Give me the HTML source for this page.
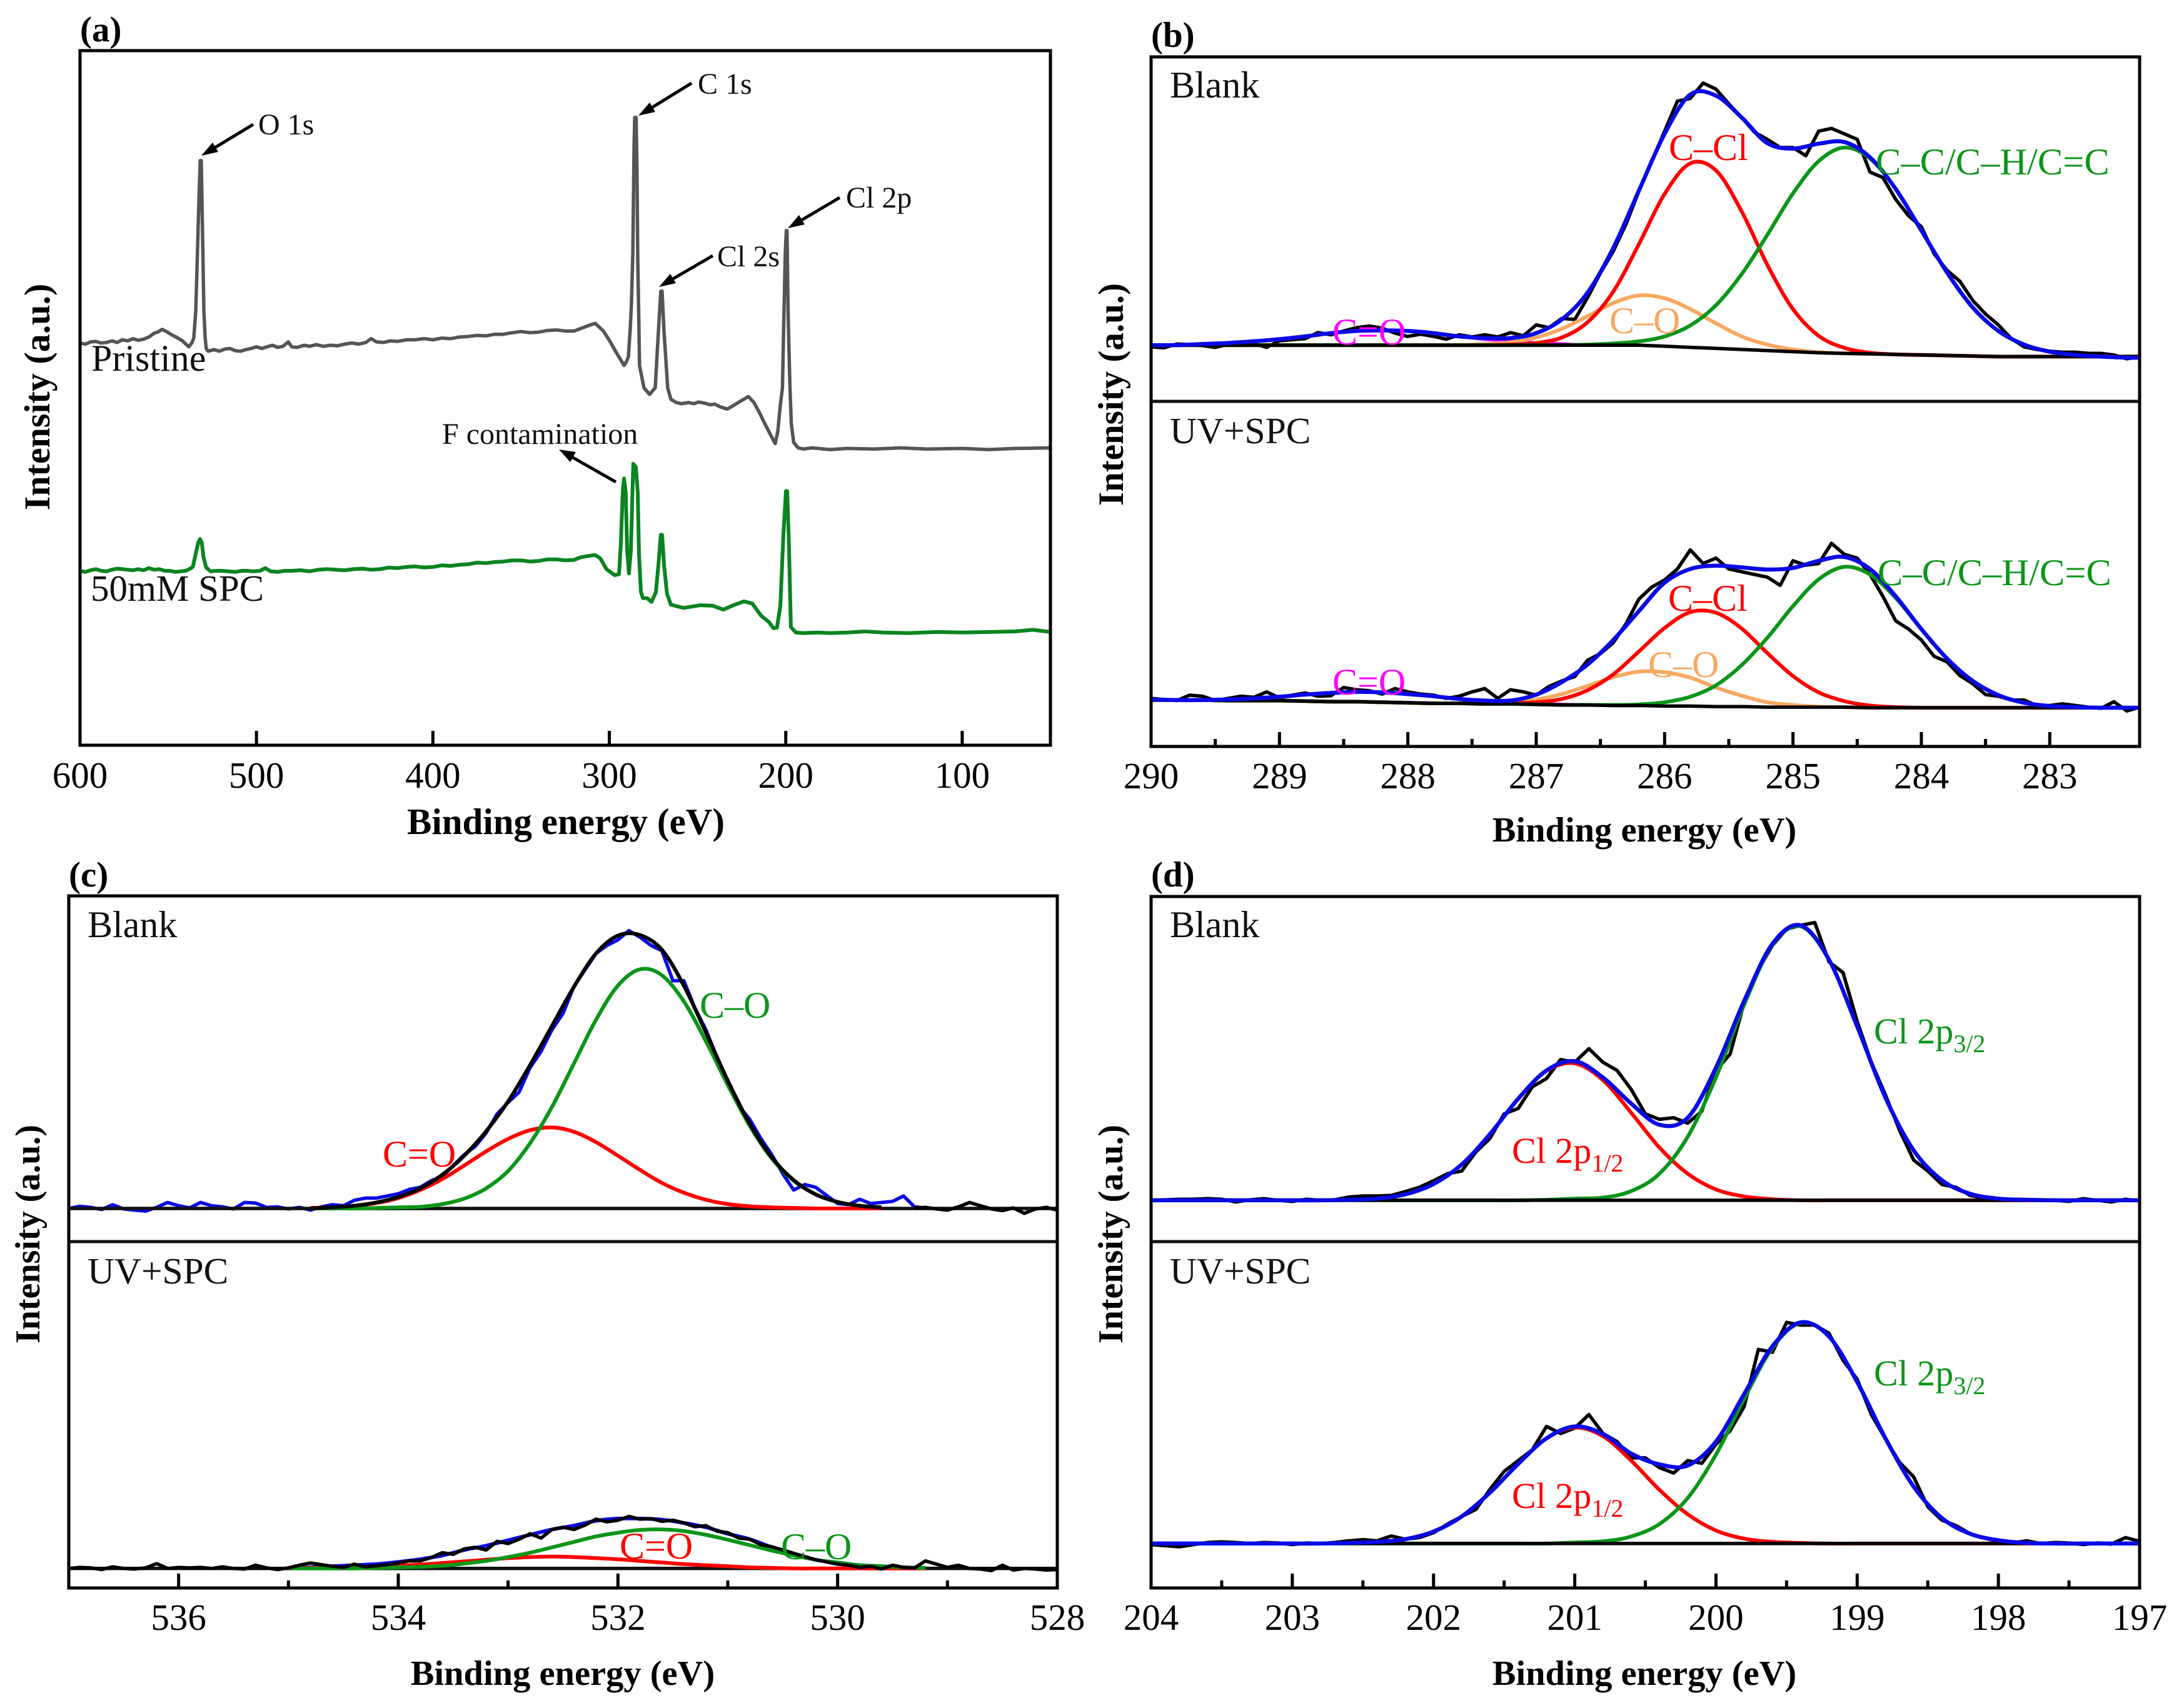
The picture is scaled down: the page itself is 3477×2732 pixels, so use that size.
<!DOCTYPE html>
<html lang="en">
<head>
<meta charset="utf-8">
<title>XPS spectra panels</title>
<style>
html,body{margin:0;padding:0;background:#fff;}
svg{display:block;}
text{font-family:"Liberation Serif",serif;fill:#000;}
.title{font-weight:bold;font-size:56.5px;}
.ylab{font-weight:bold;font-size:57px;}
.panel{font-weight:bold;font-size:57px;}
.tick{font-size:59px;text-anchor:middle;}
.lab{font-size:60px;fill:#111;}
.ann{font-size:48px;fill:#111;}
.sub{font-size:40px;}
</style>
</head>
<body>
<svg id="fig" width="3477" height="2732" viewBox="0 0 3477 2732" xmlns="http://www.w3.org/2000/svg">
<rect x="0" y="0" width="3477" height="2732" fill="#fff"/>
<g id="marks"></g>

<text class="panel" x="128" y="66">(a)</text>
<text class="panel" x="1841" y="75">(b)</text>
<text class="panel" x="110" y="1418">(c)</text>
<text class="panel" x="1841" y="1418">(d)</text>

<text class="title" style="font-size:59px" x="905" y="1334" text-anchor="middle">Binding energy (eV)</text>
<text class="title" x="2630" y="1346" text-anchor="middle">Binding energy (eV)</text>
<text class="title" x="900" y="2695" text-anchor="middle">Binding energy (eV)</text>
<text class="title" x="2630" y="2695" text-anchor="middle">Binding energy (eV)</text>

<text class="ylab" style="font-size:58px" transform="translate(79 635) rotate(-90)" text-anchor="middle">Intensity (a.u.)</text>
<text class="ylab" transform="translate(1796 631) rotate(-90)" text-anchor="middle">Intensity (a.u.)</text>
<text class="ylab" style="font-size:56px" transform="translate(63 1974) rotate(-90)" text-anchor="middle">Intensity (a.u.)</text>
<text class="ylab" style="font-size:56px" transform="translate(1795 1974) rotate(-90)" text-anchor="middle">Intensity (a.u.)</text>

<text class="ann" x="413" y="215">O 1s</text>
<text class="ann" x="1116" y="150">C 1s</text>
<text class="ann" x="1147" y="426">Cl 2s</text>
<text class="ann" x="1353" y="332">Cl 2p</text>
<text class="ann" x="707" y="710">F contamination</text>
<text class="lab" x="146" y="593">Pristine</text>
<text class="lab" style="font-size:59px" x="145" y="961">50mM SPC</text>

<g stroke="#000" stroke-width="5" fill="#000">
<line x1="405" y1="199" x2="334" y2="242"/>
<polygon stroke="none" points="322,249 340,228 349,243"/>
<line x1="1106" y1="133" x2="1033" y2="178"/>
<polygon stroke="none" points="1021,185 1039,164 1048,179"/>
<line x1="1140" y1="409" x2="1066" y2="452"/>
<polygon stroke="none" points="1054,459 1072,438 1081,453"/>
<line x1="1343" y1="316" x2="1272" y2="358"/>
<polygon stroke="none" points="1260,365 1278,344 1287,359"/>
<line x1="985" y1="771" x2="906" y2="726"/>
<polygon stroke="none" points="894,719 921,723 912,739"/>
</g>

<text class="lab" x="1871" y="156">Blank</text>
<text class="lab" style="font-size:59.5px" x="1871" y="709">UV+SPC</text>
<text class="lab" x="140" y="1499">Blank</text>
<text class="lab" style="font-size:59.5px" x="140" y="2053">UV+SPC</text>
<text class="lab" x="1871" y="1499">Blank</text>
<text class="lab" style="font-size:59.5px" x="1871" y="2053">UV+SPC</text>

<g>
<text class="lab" style="fill:#f00" x="2669" y="256">C–Cl</text>
<text class="lab" style="fill:#0a9618;font-size:60.5px" x="3000" y="279">C–C/C–H/C=C</text>
<text class="lab" style="fill:#f8a860" x="2574" y="533">C–O</text>
<text class="lab" style="fill:#f0f" x="2131" y="551">C=O</text>
<text class="lab" style="fill:#f00" x="2668" y="977">C–Cl</text>
<text class="lab" style="fill:#0a9618;font-size:60.5px" x="3003" y="936">C–C/C–H/C=C</text>
<text class="lab" style="fill:#f8a860" x="2636" y="1083">C–O</text>
<text class="lab" style="fill:#f0f" x="2131" y="1111">C=O</text>
<text class="lab" style="fill:#0a9618" x="1119" y="1628">C–O</text>
<text class="lab" style="fill:#f00" x="612" y="1866">C=O</text>
<text class="lab" style="fill:#f00" x="991" y="2493">C=O</text>
<text class="lab" style="fill:#0a9618" x="1249" y="2494">C–O</text>
<text class="lab" style="fill:#f00;font-size:58px" x="2418" y="1860">Cl 2p<tspan class="sub" dy="14">1/2</tspan></text>
<text class="lab" style="fill:#0a9618;font-size:58px" x="2997" y="1669">Cl 2p<tspan class="sub" dy="14">3/2</tspan></text>
<text class="lab" style="fill:#f00;font-size:58px" x="2418" y="2412">Cl 2p<tspan class="sub" dy="14">1/2</tspan></text>
<text class="lab" style="fill:#0a9618;font-size:58px" x="2997" y="2216">Cl 2p<tspan class="sub" dy="14">3/2</tspan></text>
</g>
</svg>

<script>
/* ---------- Panel (a): survey spectra ---------- */
const aPristineEnergy = [600,597,594,591,588,585,582,579,576,573, 570,567,564,561,558,556,553.5,551,548,545, 542,540,538.3,536.5,535.5,534.4,533.4,532.6,531.9,531.3, 530.9,530.4,529.8,529.1,528.5,527.4,524,521,518,515, 512,509,506,503,500,497,494,491,488,485, 482,480,477,473,470,466,462,458,454,450, 446,442,438,435,432,428,424,420,415,410, 405,400,395,390,385,380,375,370,365,360, 355,350,345,340,335,330,325,320,315,311, 308,303.4,300,297,291.7,290.3,289.2,288.2,287.5,286.7, 286,285.6,284.8,284.3,283.9,283.3,282.9,280.4,277.2,274, 272.2,270.8,270.1,269,266.9,265.1,262,259.1,255,252, 249.5,246,243,240.3,237,233.2,230,226,221.2,218, 215,212,208,206,204.5,203.2,201.9,201,200.3,199.7, 199.3,198.7,198,197.6,196.9,195.5,193,190,185,175, 165,150,135,120,100,85,70,50];
const aPristineValues = [737,735,739,740,737,738,741,738,743,741, 745,742,744,748,755,757,762,758,752,747, 741,735,730,738,747,796,907,1000,1071,1071, 1000,907,796,747,727,722,725,722,726,727, 723,722,725,727,730,727,730,733,729,731, 739,730,729,733,731,734,731,733,732,735, 737,735,738,745,739,738,741,740,743,743, 745,743,746,745,748,749,751,750,753,753, 756,758,756,757,760,761,759,759,765,770, 773,759,742,725,696,703,712,760,806,900, 1100,1150,1150,1050,889,780,696,655,643,655, 758,832,832,758,655,634,628,626,628,626, 629,627,624,625,620,616,622,630,639,628, 610,590,565,553,575,620,655,795,900,943, 943,795,700,655,590,555,545,543,545,542, 544,543,545,543,544,542,544,545];
const aSpcEnergy = [600,597,594,591,588,585,582,579,576,573, 570,567,564,561,558,555,552,549,546,543, 540,537,536,534.5,533,532,531,530,528.5,526, 523,520,516,512,508,505,502,498,495,492, 488,484,480,475,470,465,460,455,450,445, 440,435,430,425,420,415,410,405,400,395, 390,385,380,375,370,365,360,355,350,345, 340,335,330,325,320,316,312,308,305.2,301.6, 297,294.5,293.5,292.4,291.7,290.7,289.9,288.9,287.8,286.7, 286.4,285,283.9,283.2,282.1,281,278.6,276.1,273.6,272.2, 270.8,270.1,269,267.3,265.1,258,248.5,241.4,235.4,229.7, 223.7,219,214,209.5,207,205,203.1,201.3,199.9,199.2, 198.2,197.1,194.3,190,182,175,165,155,145,130, 115,100,85,70,60,50];
const aSpcValues = [320,318,321,323,320,319,322,324,323,322, 321,323,321,325,322,323,320,320,318,319, 320,325,328,350,372,378,372,345,326,319, 320,320,319,318,320,320,319,320,325,319, 318,320,320,321,319,322,323,322,321,323, 324,322,323,326,325,327,328,326,327,330, 329,331,332,335,334,336,337,339,339,337, 338,341,341,339,340,345,347,349,343,323, 312,314,369,464,489,464,358,315,358,487, 516,510,464,350,281,270,270,263,281,331, 386,386,331,278,258,252,257,256,249,257, 264,260,238,226,215,216,255,389,466,466, 369,217,207,206,207,206,207,209,207,206, 208,207,208,209,212,208];
const aTicks = [600,500,400,300,200,100];

/* ---------- Panel (b): C 1s ---------- */
const bTicks = [290,289,288,287,286,285,284,283];
const bMinorTicks = [289.5,288.5,287.5,286.5,285.5,284.5,283.5];
const bFitEnergy = [290,289.8,289.6,289.4,289.2,289,288.8,288.6,288.4,288.2,288,287.8,287.6,287.4,287.2,287,286.8,286.6,286.4,286.2,286,285.8,285.6,285.4,285.2,285,284.8,284.6,284.4,284.2,284,283.8,283.6,283.4,283.2,283,282.8,282.6,282.4,282.3];
const bBlankRaw = [100,98,105,104,102,99,104,105,106,99, 111,113,115,126,122,129,135,138,134,125, 119,123,119,114,122,118,122,118,126,120, 140,135,152,150,190,235,275,325,385,440, 495,550,555,583,572,545,520,493,480,465, 465,450,495,500,490,480,420,410,370,340, 320,270,240,220,185,160,140,115,100,95, 92,90,90,88,88,85,78,82];
const bBlankBaseline = [103,103,103,103,103,103,103,103,103,103,103,103,103,103,103,103,103,103,103,103,101,99,97,95,93,91,89,88,87,86,85,84,83,82,82,82,82,82,82,82];
const bBlankRed = [103,103,103,103,103,103,103,103,103,103,103,103,103,103,104,107,117,145,201,288,380,436,423,348,250,169,120,98,89,86,85,84,83,82,82,82,82,82,82,82];
const bBlankGreen = [103,103,103,103,103,103,103,103,103,103,103,103,103,103,103,103,103,104,106,110,119,139,176,233,305,381,440,465,445,389,313,236,172,129,104,91,85,82,82,82];
const bBlankOrange = [103,103,103,103,103,103,103,103,103,103,103,103,103,105,108,117,133,156,180,194,189,169,143,119,104,95,90,88,87,86,85,84,83,82,82,82,82,82,82,82];
const bBlankMagenta = [103,103,105,107,110,114,119,125,129,130,129,125,119,114,110,107,105,103,103,103];
const bBlankBlue = [103,103,105,107,110,114,119,125,129,130,129,125,119,116,116,125,150,199,281,386,490,562,560,520,473,463,472,475,447,389,313,236,172,129,104,91,85,82,80,80];

const bUvRaw = [88,86,84,94,92,84,88,92,90,100, 89,94,98,92,93,108,104,102,96,106, 100,96,94,88,92,100,106,88,104,100, 94,110,120,128,158,170,190,225,270,292, 305,325,360,335,345,325,320,315,310,295, 340,332,335,372,352,345,315,275,230,215, 195,165,155,130,115,95,92,85,85,75, 75,78,75,72,70,82,65,72];
const bUvBaseline = [85,85,85,84,84,84,83,82,82,81,80,79,79,78,78,77,76,76,75,75,74,74,73,73,72,72,72,72,71,71,71,71,71,71,71,71,71,71,71,71];
const bUvRed = [85,85,85,84,84,84,83,82,82,81,80,79,79,78,79,81,87,103,132,174,217,246,245,216,171,129,99,83,75,72,71,71,71,71,71,71,71,71,71,71];
const bUvGreen = [85,85,85,84,84,84,83,82,82,81,80,79,79,78,78,77,76,76,76,77,81,91,112,149,199,257,306,329,315,272,215,161,120,94,80,74,72,71,71,71];
const bUvOrange = [85,85,85,84,84,84,83,82,82,81,80,79,79,78,82,86,96,111,127,137,136,126,108,93,81,76,73,72,71,71,71,71,71,71,71,71,71,71,71,71];
const bUvMagenta = [85,85,85,86,88,91,95,98,100,99,96,92,87,84,81,79,77,76,75,75];
const bUvBlue = [86,85,85,86,88,91,95,98,100,99,96,92,87,84,84,95,118,150,195,248,300,325,331,328,324,327,340,347,325,275,215,161,120,94,80,74,72,71,71,71];

/* ---------- Panel (c): O 1s ---------- */
const cTicks = [536,534,532,530,528];
const cMinorTicks = [535,533,531,529];
const cBaselineEnergy = [537,528];
const cBlankRawBlue = [61,65,63,59,68,60,58,56,63,72, 66,62,72,66,64,60,72,71,63,64, 60,63,58,64,68,66,76,80,80,84, 88,96,100,112,120,140,160,175,200,235, 256,275,320,350,390,420,470,500,530,545, 555,572,560,545,535,480,480,430,390,340, 290,250,225,190,160,125,95,105,100,85, 70,68,78,70,72,74,84,64,62];
const cBlankTailEnergy = [529.3,529.2,529.1,529,528.9,528.8,528.7,528.6,528.5,528.4,528.3,528.2,528.1,528];
const cBlankTail = [62,63,60,58,64,72,66,60,57,62,52,60,63,58];
const cBlankFitEnergy = [534.8,534.6,534.4,534.2,534,533.8,533.6,533.4,533.2,533,532.8,532.6,532.4,532.2,532,531.8,531.6,531.4,531.2,531,530.8,530.6,530.4,530.2,530,529.8,529.6];
const cBlankRed = [62,63,66,71,80,95,115,140,166,189,205,210,202,183,158,132,108,90,77,69,65,63,62,61,61,61,61];
const cBlankGreen = [61,61,61,62,63,64,69,79,98,130,181,248,328,408,471,501,490,442,369,288,213,153,112,87,73,66,63];
const cBlankFit = [61,63,66,72,82,98,123,158,203,258,325,397,469,530,563,564,537,471,385,296,217,155,113,87,73,66,63];
const cBlankBaseline = [61,61];

const cUvRaw = [36,38,37,34,39,36,35,37,45,36, 38,37,38,36,39,36,35,42,37,34, 37,42,46,43,40,38,44,39,41,43, 46,50,50,56,65,62,72,75,70,86, 82,90,100,92,108,112,108,116,127,122, 125,132,127,128,123,125,120,113,115,105, 102,92,90,80,76,70,64,58,52,48, 44,42,38,40,35,42,38,37,50,44, 38,42,36,35,32,42,33,36,35,33, 34];
const cUvFitEnergy = [535,534.8,534.6,534.4,534.2,534,533.8,533.6,533.4,533.2,533,532.8,532.6,532.4,532.2,532,531.8,531.6,531.4,531.2,531,530.8,530.6,530.4,530.2,530,529.8,529.6,529.4,529.2];
const cUvRed = [36,37,37,38,39,41,43,46,49,52,55,57,58,57,55,53,50,47,44,42,40,38,37,36,36,36,36,36,36,36];
const cUvGreen = [36,36,36,36,37,38,39,41,45,50,57,65,75,85,95,102,107,108,105,98,89,79,69,60,52,47,42,40,38,37];
const cUvBlue = [37,38,40,42,44,48,53,60,70,78,88,98,108,115,124,128,128,126,120,112,100,90,75,62,52,47,42,40,38,37];
const cUvBaseline = [36,36];

/* ---------- Panel (d): Cl 2p ---------- */
const dTicks = [204,203,202,201,200,199,198,197];
const dMinorTicks = [203.5,202.5,201.5,200.5,199.5,198.5,197.5];
const dBaselineEnergy = [204,197];
const dFitEnergy = [204,203.8,203.6,203.4,203.2,203,202.8,202.6,202.4,202.2,202,201.8,201.6,201.4,201.2,201,200.8,200.6,200.4,200.2,200,199.8,199.6,199.4,199.2,199,198.8,198.6,198.4,198.2,198,197.8,197.6,197.4,197.2,197];
const dBlankRaw = [76,77,78,78,79,78,73,77,79,76, 74,78,76,77,82,84,84,85,92,100, 112,125,130,165,190,235,245,285,300,335, 330,355,330,315,280,235,225,228,218,240, 315,345,440,500,545,575,582,587,515,495, 405,330,270,205,150,130,105,100,85,80, 76,76,76,77,76,74,79,76,73,78, 75];
const dBlankRed = [76,76,76,76,76,76,76,77,79,87,106,142,198,263,314,328,297,237,173,125,96,83,78,76,76,76,76,76,76,76,76,76,76,76,76,76];
const dBlankGreen = [76,76,76,76,76,76,76,76,76,76,76,76,76,76,77,79,81,93,125,193,302,436,546,580,519,396,265,168,113,88,79,77,76,76,76,76];
const dBlankBlue = [76,76,76,76,76,76,76,77,79,87,106,142,198,263,315,332,302,254,215,228,320,443,548,582,519,396,265,168,113,88,79,77,76,76,76,76];
const dBlankBaseline = [76,76];

const dUvRaw = [80,78,76,80,84,85,84,82,84,83, 80,83,82,84,87,89,87,96,90,93, 102,118,132,145,182,215,235,255,298,285, 295,320,285,270,240,240,222,212,235,230, 265,290,335,440,435,490,485,485,470,420, 385,320,275,232,205,150,125,115,100,92, 86,83,87,82,84,83,80,83,81,93, 86];
const dUvRed = [82,82,82,82,82,82,82,83,85,90,104,132,176,229,276,296,280,235,181,136,106,91,85,83,82,82,82,82,82,82,82,82,82,82,82,82];
const dUvGreen = [82,82,82,82,82,82,82,82,82,82,82,82,82,82,82,84,86,95,118,166,246,349,443,489,464,380,276,187,129,100,88,83,82,82,82,82];
const dUvBlue = [82,82,82,82,82,82,82,83,85,90,104,132,176,229,276,298,284,248,228,226,270,358,446,490,464,380,276,187,129,100,88,83,82,82,82,82];
const dUvBaseline = [82,82];

/* Instrument step grids for the raw scans (0.1 eV per channel) */
const bRawEnergy = stepGrid(290, 78);
const cBlankRawEnergy = stepGrid(537, 79);
const cUvRawEnergy = stepGrid(537, 91);
const dRawEnergy = stepGrid(204, 71);

function stepGrid(start, count) {
  const out = [];
  for (let i = 0; i < count; i++) out.push(Math.round((start - i * 0.1) * 10) / 10);
  return out;
}

/* ---------- Rendering ---------- */
const NS = 'http://www.w3.org/2000/svg';
const marks = document.getElementById('marks');

const COL = {black:'#000', gray:'#555', surveyGreen:'#0a8420', blue:'#0a0ae6', red:'#f00', green:'#0a9618', orange:'#f8a860', magenta:'#f0f'};

function linearScale(d0, d1, p0, p1) {
  return function (v) { return p0 + (v - d0) * (p1 - p0) / (d1 - d0); };
}

function pathFrom(xs, ys, smooth) {
  let d = 'M' + xs[0].toFixed(1) + ' ' + ys[0].toFixed(1);
  for (let i = 1; i < xs.length; i++) {
    if (!smooth) { d += 'L' + xs[i].toFixed(1) + ' ' + ys[i].toFixed(1); continue; }
    const i0 = Math.max(0, i - 2), i3 = Math.min(xs.length - 1, i + 1);
    const c1x = xs[i-1] + (xs[i] - xs[i0]) / 6, c1y = ys[i-1] + (ys[i] - ys[i0]) / 6;
    const c2x = xs[i] - (xs[i3] - xs[i-1]) / 6, c2y = ys[i] - (ys[i3] - ys[i-1]) / 6;
    d += 'C' + c1x.toFixed(1) + ' ' + c1y.toFixed(1) + ' ' + c2x.toFixed(1) + ' ' + c2y.toFixed(1) + ' ' + xs[i].toFixed(1) + ' ' + ys[i].toFixed(1);
  }
  return d;
}

function drawSeries(name, energies, values, sx, sy, color, width, smooth) {
  const n = Math.min(energies.length, values.length);
  const xs = [], ys = [];
  for (let i = 0; i < n; i++) { xs.push(sx(energies[i])); ys.push(sy(values[i])); }
  const el = document.createElementNS(NS, 'path');
  
  
  el.setAttribute('d', pathFrom(xs, ys, smooth));
  el.setAttribute('fill', 'none');
  el.setAttribute('stroke', color);
  el.setAttribute('stroke-width', width);
  el.setAttribute('stroke-linejoin', 'round');
  marks.appendChild(el);
}

function drawFrame(name, left, top, right, bottom) {
  const el = document.createElementNS(NS, 'rect');
  
  
  el.setAttribute('x', left);
  el.setAttribute('y', top);
  el.setAttribute('width', right - left);
  el.setAttribute('height', bottom - top);
  el.setAttribute('fill', 'none');
  el.setAttribute('stroke', '#000');
  el.setAttribute('stroke-width', 5);
  marks.appendChild(el);
}

function drawDivider(name, left, right, y) {
  const el = document.createElementNS(NS, 'line');
  
  
  el.setAttribute('x1', left);
  el.setAttribute('x2', right);
  el.setAttribute('y1', y);
  el.setAttribute('y2', y);
  el.setAttribute('stroke', '#111');
  el.setAttribute('stroke-width', 5);
  marks.appendChild(el);
}

function drawTick(name, x, bottom, len) {
  const el = document.createElementNS(NS, 'line');
  
  
  el.setAttribute('x1', x);
  el.setAttribute('x2', x);
  el.setAttribute('y1', bottom);
  el.setAttribute('y2', bottom - len);
  el.setAttribute('stroke', '#000');
  el.setAttribute('stroke-width', 5);
  marks.appendChild(el);
}

function drawTickLabel(name, x, y, value) {
  const el = document.createElementNS(NS, 'text');
  
  
  el.setAttribute('class', 'tick');
  el.setAttribute('x', x);
  el.setAttribute('y', y);
  el.textContent = String(value);
  marks.appendChild(el);
}

function drawAxis(prefix, ticks, minors, sx, bottom, labelY) {
  ticks.forEach(function (t) {
    drawTick(prefix + '-tick-' + t, sx(t), bottom, 23);
    drawTickLabel(prefix + '-tick-label-' + t, sx(t), labelY, t);
  });
  minors.forEach(function (t) {
    drawTick(prefix + '-minor-tick-' + t, sx(t), bottom, 12);
  });
}

/* Panel (a) */
const aX = linearScale(600, 50, 128, 1680);
const aY = linearScale(0, 1273, 1192.6, 80.4);
drawSeries('pristine-spectrum', aPristineEnergy, aPristineValues, aX, aY, COL.gray, 5.5, false);
drawSeries('spc-spectrum', aSpcEnergy, aSpcValues, aX, aY, COL.surveyGreen, 6, false);
drawFrame('panel-a-frame', 128, 81, 1680, 1192);
drawAxis('a', aTicks, [], aX, 1192, 1260);

/* Panel (b) */
const bX = linearScale(290, 282.3, 1841, 3422);
const bYTop = linearScale(0, 631, 642, 91);
const bYBot = linearScale(0, 632, 1194, 642);
drawSeries('b-blank-raw', bRawEnergy, bBlankRaw, bX, bYTop, COL.black, 5.5, false);
drawSeries('b-blank-c=o-fit', bFitEnergy, bBlankMagenta, bX, bYTop, COL.magenta, 5.5, true);
drawSeries('b-blank-c-o-fit', bFitEnergy, bBlankOrange, bX, bYTop, COL.orange, 6, true);
drawSeries('b-blank-c-cl-fit', bFitEnergy, bBlankRed, bX, bYTop, COL.red, 6, true);
drawSeries('b-blank-c-c-fit', bFitEnergy, bBlankGreen, bX, bYTop, COL.green, 6, true);
drawSeries('b-blank-baseline', bFitEnergy, bBlankBaseline, bX, bYTop, COL.black, 5.5, false);
drawSeries('b-blank-envelope', bFitEnergy, bBlankBlue, bX, bYTop, COL.blue, 6.5, true);
drawSeries('b-uv-raw', bRawEnergy, bUvRaw, bX, bYBot, COL.black, 5.5, false);
drawSeries('b-uv-c=o-fit', bFitEnergy, bUvMagenta, bX, bYBot, COL.magenta, 5.5, true);
drawSeries('b-uv-c-o-fit', bFitEnergy, bUvOrange, bX, bYBot, COL.orange, 6, true);
drawSeries('b-uv-c-cl-fit', bFitEnergy, bUvRed, bX, bYBot, COL.red, 6, true);
drawSeries('b-uv-c-c-fit', bFitEnergy, bUvGreen, bX, bYBot, COL.green, 6, true);
drawSeries('b-uv-baseline', bFitEnergy, bUvBaseline, bX, bYBot, COL.black, 5.5, false);
drawSeries('b-uv-envelope', bFitEnergy, bUvBlue, bX, bYBot, COL.blue, 6.5, true);
drawFrame('panel-b-frame', 1841, 91, 3422, 1194);
drawDivider('panel-b-divider', 1841, 3422, 642);
drawAxis('b', bTicks, bMinorTicks, bX, 1194, 1261);

/* Panel (c) */
const cX = linearScale(537, 528, 110, 1691);
const cYTop = linearScale(0, 636, 1986, 1433);
const cYBot = linearScale(0, 639, 2540, 1986);
drawSeries('c-blank-raw', cBlankRawEnergy, cBlankRawBlue, cX, cYTop, COL.blue, 5.5, false);
drawSeries('c-blank-baseline', cBaselineEnergy, cBlankBaseline, cX, cYTop, '#111', 5.5, false);
drawSeries('c-blank-c=o-fit', cBlankFitEnergy, cBlankRed, cX, cYTop, COL.red, 6, true);
drawSeries('c-blank-c-o-fit', cBlankFitEnergy, cBlankGreen, cX, cYTop, COL.green, 6, true);
drawSeries('c-blank-envelope', cBlankFitEnergy, cBlankFit, cX, cYTop, COL.black, 6, true);
drawSeries('c-blank-tail', cBlankTailEnergy, cBlankTail, cX, cYTop, COL.black, 5.5, false);
drawSeries('c-uv-baseline', cBaselineEnergy, cUvBaseline, cX, cYBot, '#111', 5.5, false);
drawSeries('c-uv-envelope', cUvFitEnergy, cUvBlue, cX, cYBot, COL.blue, 6, true);
drawSeries('c-uv-c=o-fit', cUvFitEnergy, cUvRed, cX, cYBot, COL.red, 6, true);
drawSeries('c-uv-c-o-fit', cUvFitEnergy, cUvGreen, cX, cYBot, COL.green, 6, true);
drawSeries('c-uv-raw', cUvRawEnergy, cUvRaw, cX, cYBot, COL.black, 5.5, false);
drawFrame('panel-c-frame', 110, 1433, 1691, 2540);
drawDivider('panel-c-divider', 110, 1691, 1986);
drawAxis('c', cTicks, cMinorTicks, cX, 2540, 2607);

/* Panel (d) */
const dX = linearScale(204, 197, 1841, 3422);
const dYTop = linearScale(0, 635, 1986, 1434);
const dYBot = linearScale(0, 639, 2540, 1986);
drawSeries('d-blank-raw', dRawEnergy, dBlankRaw, dX, dYTop, COL.black, 5.5, false);
drawSeries('d-blank-cl2p12-fit', dFitEnergy, dBlankRed, dX, dYTop, COL.red, 6, true);
drawSeries('d-blank-cl2p32-fit', dFitEnergy, dBlankGreen, dX, dYTop, COL.green, 6, true);
drawSeries('d-blank-baseline', dBaselineEnergy, dBlankBaseline, dX, dYTop, COL.black, 5.5, false);
drawSeries('d-blank-envelope', dFitEnergy, dBlankBlue, dX, dYTop, COL.blue, 6.5, true);
drawSeries('d-uv-raw', dRawEnergy, dUvRaw, dX, dYBot, COL.black, 5.5, false);
drawSeries('d-uv-cl2p12-fit', dFitEnergy, dUvRed, dX, dYBot, COL.red, 6, true);
drawSeries('d-uv-cl2p32-fit', dFitEnergy, dUvGreen, dX, dYBot, COL.green, 6, true);
drawSeries('d-uv-baseline', dBaselineEnergy, dUvBaseline, dX, dYBot, COL.black, 5.5, false);
drawSeries('d-uv-envelope', dFitEnergy, dUvBlue, dX, dYBot, COL.blue, 6.5, true);
drawFrame('panel-d-frame', 1841, 1434, 3422, 2540);
drawDivider('panel-d-divider', 1841, 3422, 1986);
drawAxis('d', dTicks, dMinorTicks, dX, 2540, 2607);
</script>
</body>
</html>
